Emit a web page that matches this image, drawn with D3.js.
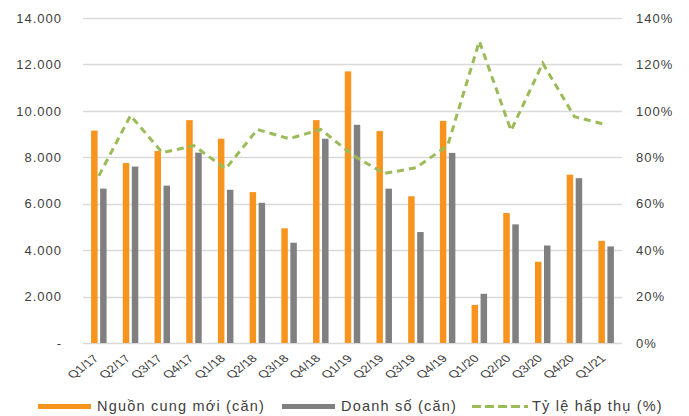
<!DOCTYPE html>
<html>
<head>
<meta charset="utf-8">
<script src="https://cdn.jsdelivr.net/npm/d3@7"></script>
<style>
    body { margin: 0; background: #fff; }
    text { font-family: "Liberation Sans", Arial, sans-serif; fill: #404040; }
</style>
</head>
<body>
<div class="chart_container"></div>
<script>
    // quarters
    var quarters = ["Q1/17", "Q2/17", "Q3/17", "Q4/17", "Q1/18", "Q2/18", "Q3/18", "Q4/18",
                    "Q1/19", "Q2/19", "Q3/19", "Q4/19", "Q1/20", "Q2/20", "Q3/20", "Q4/20", "Q1/21"];
    // new supply (units)
    var supply = [9150, 7750, 8270, 9600, 8800, 6500, 4940, 9600,
                  11700, 9130, 6320, 9570, 1640, 5600, 3500, 7250, 4400];
    // sales (units)
    var sales = [6650, 7600, 6780, 8200, 6600, 6040, 4320, 8800,
                 9400, 6650, 4780, 8190, 2120, 5110, 4200, 7100, 4160];
    // absorption rate (%)
    var absorption = [72, 98, 82, 85, 75, 92, 88, 92,
                      81, 73, 75.5, 85, 130, 91.5, 120.5, 97.5, 94];
    var leftTicks = [0, 2000, 4000, 6000, 8000, 10000, 12000, 14000];
    var rightTicks = [0, 20, 40, 60, 80, 100, 120, 140];

    var w = 689
    var h = 416
    var p_left = 83, p_right = 622, p_top = 18, p_bottom = 343;

    var svg = d3.select('.chart_container')
                .append('svg')
                .attr('width', w)
                .attr('height', h);

    var vn = d3.formatLocale({decimal: ",", thousands: ".", grouping: [3], currency: ["", ""]});
    var fmt = vn.format(",");

    //scales
    var x_scale = d3.scaleBand()
                    .domain(quarters)
                    .range([p_left, p_right]);
    var x_inner = d3.scaleBand()
                    .domain(["supply", "sales"])
                    .range([0, x_scale.bandwidth()])
                    .paddingInner(0.28)
                    .paddingOuter(0.9);
    var y_scale = d3.scaleLinear()
                    .domain([0, 14000])
                    .range([p_bottom, p_top]);
    var pct_scale = d3.scaleLinear()
                    .domain([0, 140])
                    .range([p_bottom, p_top]);

    //gridlines
    svg.append('g')
        .selectAll('line')
        .data(leftTicks)
        .enter()
        .append('line')
        .attr('x1', p_left)
        .attr('x2', p_right)
        .attr('y1', d => Math.round(y_scale(d)) + 0.5)
        .attr('y2', d => Math.round(y_scale(d)) + 0.5)
        .attr('stroke', '#d9d9d9')
        .attr('stroke-width', 1.3);

    //left axis labels
    var y_axis = d3.axisLeft(y_scale)
                    .tickValues(leftTicks)
                    .tickSize(0)
                    .tickPadding(0)
                    .tickFormat(d => d === 0 ? "-" : fmt(d));
    svg.append('g')
        .attr('class', 'y_axis')
        .attr('transform', 'translate(62,0)')
        .call(y_axis)
        .call(g => g.select('.domain').remove())
        .selectAll('text')
        .style('font-family', '"Liberation Sans", Arial, sans-serif')
        .style('font-size', '13px')
        .style('letter-spacing', '1px')
        .style('fill', '#404040');

    //right axis labels
    var pct_axis = d3.axisRight(pct_scale)
                    .tickValues(rightTicks)
                    .tickSize(0)
                    .tickPadding(0)
                    .tickFormat(d => d + "%");
    svg.append('g')
        .attr('class', 'pct_axis')
        .attr('transform', 'translate(636,0)')
        .call(pct_axis)
        .call(g => g.select('.domain').remove())
        .selectAll('text')
        .style('font-family', '"Liberation Sans", Arial, sans-serif')
        .style('font-size', '13px')
        .style('letter-spacing', '1px')
        .style('fill', '#404040');

    //x axis labels, stretched sideways like the source image
    svg.append('g')
        .selectAll('text')
        .data(quarters)
        .enter()
        .append('text')
        .attr('transform', d => 'translate(' + (x_scale(d) + x_scale.bandwidth()/2 + 0.5) + ',' + (p_bottom + 16) + ') scale(1.3,1) rotate(-45)')
        .attr('text-anchor', 'end')
        .style('font-size', '10.5px')
        .text(d => d);

    //bars
    var groups = svg.selectAll('.quarter')
            .data(quarters)
            .enter()
            .append('g')
            .attr('class', 'quarter')
            .attr('transform', d => 'translate(' + x_scale(d) + ',0)');

    groups.append('rect')
            .attr('x', x_inner('supply'))
            .attr('width', x_inner.bandwidth())
            .attr('y', (d, i) => y_scale(supply[i]))
            .attr('height', (d, i) => p_bottom - y_scale(supply[i]))
            .style('fill', '#F7941D');

    groups.append('rect')
            .attr('x', x_inner('sales'))
            .attr('width', x_inner.bandwidth())
            .attr('y', (d, i) => y_scale(sales[i]))
            .attr('height', (d, i) => p_bottom - y_scale(sales[i]))
            .style('fill', '#808080');

    //absorption line
    var line = d3.line()
            .x((d, i) => x_scale(quarters[i]) + x_scale.bandwidth()/2)
            .y(d => pct_scale(d));
    svg.append('path')
            .datum(absorption)
            .attr('d', line)
            .attr('fill', 'none')
            .attr('stroke', '#9BBB59')
            .attr('stroke-width', 3)
            .style('stroke-dasharray', '7,5');

    //legend
    var legend = svg.append('g').attr('class', 'legend');
    legend.append('rect')
            .attr('x', 38).attr('y', 404).attr('width', 53).attr('height', 5)
            .style('fill', '#F7941D');
    legend.append('text')
            .attr('x', 97).attr('y', 411)
            .style('font-size', '14.5px')
            .style('letter-spacing', '1.2px')
            .text("Nguồn cung mới (căn)");
    legend.append('rect')
            .attr('x', 282).attr('y', 404).attr('width', 53).attr('height', 5)
            .style('fill', '#808080');
    legend.append('text')
            .attr('x', 341).attr('y', 411)
            .style('font-size', '14.5px')
            .style('letter-spacing', '1.2px')
            .text("Doanh số (căn)");
    legend.append('path')
            .attr('d', d3.line()([[472, 406.5], [528, 406.5]]))
            .attr('stroke', '#9BBB59')
            .attr('stroke-width', 3)
            .style('stroke-dasharray', '9,4');
    legend.append('text')
            .attr('x', 532).attr('y', 411)
            .style('font-size', '14.5px')
            .style('letter-spacing', '1.2px')
            .text("Tỷ lệ hấp thụ (%)");
</script>
</body>
</html>
